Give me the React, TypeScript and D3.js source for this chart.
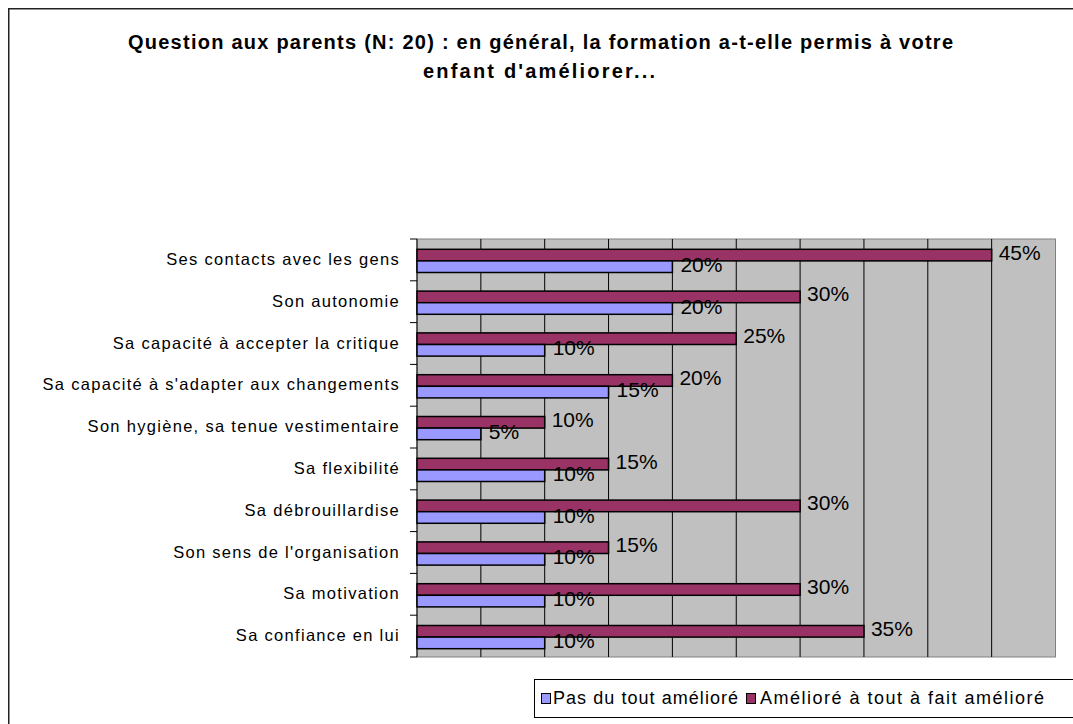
import React from "react";
import * as d3 from "d3";

const categories = [
  "Ses contacts avec les gens",
  "Son autonomie",
  "Sa capacité à accepter la critique",
  "Sa capacité à s'adapter aux changements",
  "Son hygiène, sa tenue vestimentaire",
  "Sa flexibilité",
  "Sa débrouillardise",
  "Son sens de l'organisation",
  "Sa motivation",
  "Sa confiance en lui",
];
const pasDuTout = [0.2, 0.2, 0.1, 0.15, 0.05, 0.1, 0.1, 0.1, 0.1, 0.1];
const ameliore = [0.45, 0.3, 0.25, 0.2, 0.1, 0.15, 0.3, 0.15, 0.3, 0.35];
const seriesNames = ["Pas du tout amélioré", "Amélioré à tout à fait amélioré"];
const xTicks = [0, 0.05, 0.1, 0.15, 0.2, 0.25, 0.3, 0.35, 0.4, 0.45, 0.5];
const titleLines = [
  "Question aux parents (N: 20) : en général, la formation a-t-elle permis à votre",
  "enfant d'améliorer...",
];

const W = 1073;
const H = 724;
const FONT = "'Liberation Sans', Arial, sans-serif";
const BLUE = "#9999FF";
const MAROON = "#993366";
const PLOT_BG = "#C0C0C0";

export default function App() {
  const x0 = 417, x1 = 1055.5, y0 = 239, y1 = 657;
  const x = d3.scaleLinear().domain([0, 0.5]).range([x0, x1]);
  const y = d3.scaleBand<string>().domain(categories).range([y0, y1]);
  const bw = y.bandwidth();
  const barH = 11.6;
  const pct = d3.format(".0%");

  return (
    <svg width={W} height={H} style={{ position: "absolute", left: 0, top: 0 }}>
      <rect x={0} y={0} width={W} height={H} fill="#fff" />
      <rect x={8.75} y={8.75} width={W + 20} height={H + 20} fill="none" stroke="#222" strokeWidth={1.5} />

      {/* title */}
      <text x={540.5} y={48.5} textAnchor="middle" fontFamily={FONT} fontWeight="bold" fontSize={20}
        textLength={825} lengthAdjust="spacing">{titleLines[0]}</text>
      <text x={539} y={77.5} textAnchor="middle" fontFamily={FONT} fontWeight="bold" fontSize={20}
        textLength={232} lengthAdjust="spacing">{titleLines[1]}</text>

      {/* plot area */}
      <rect x={x0} y={y0} width={x1 - x0} height={y1 - y0} fill={PLOT_BG} stroke="#808080" strokeWidth={1} />
      {xTicks.slice(1, -1).map((t) => (
        <line key={t} x1={x(t)} x2={x(t)} y1={y0} y2={y1} stroke="#000" strokeWidth={1} />
      ))}

      {/* left axis */}
      <line x1={x0} x2={x0} y1={y0} y2={y1} stroke="#000" strokeWidth={1} />
      {d3.range(categories.length + 1).map((i) => {
        const yy = y0 + i * bw;
        return <line key={i} x1={x0 - 7} x2={x0} y1={yy} y2={yy} stroke="#000" strokeWidth={1} />;
      })}

      {categories.map((c, i) => {
        const top = (y(c) as number) + 10.3;
        const yM = top;
        const yB = top + barH;
        return (
          <g key={c}>
            <text x={400} y={(y(c) as number) + bw / 2 + 5} textAnchor="end" fontFamily={FONT}
              fontSize={16.5} letterSpacing={1.3} fill="#000">{c}</text>
            <rect x={x(0)} y={yM} width={x(ameliore[i]) - x(0)} height={barH} fill={MAROON}
              stroke="#000" strokeWidth={1.5} />
            <rect x={x(0)} y={yB} width={x(pasDuTout[i]) - x(0)} height={barH} fill={BLUE}
              stroke="#000" strokeWidth={1.5} />
            <text x={x(ameliore[i]) + 7} y={yM + barH / 2 + 4.5} fontFamily={FONT} fontSize={21}
              fill="#000">{pct(ameliore[i])}</text>
            <text x={x(pasDuTout[i]) + 8} y={yB + barH / 2 + 5} fontFamily={FONT} fontSize={21}
              fill="#000">{pct(pasDuTout[i])}</text>
          </g>
        );
      })}

      {/* legend */}
      <rect x={534.5} y={679.5} width={W} height={38} fill="#fff" stroke="#000" strokeWidth={1} />
      <rect x={541.5} y={693.5} width={9} height={10} fill={BLUE} stroke="#000" strokeWidth={1} />
      <text x={553} y={704} fontFamily={FONT} fontSize={18} letterSpacing={1.05}>{seriesNames[0]}</text>
      <rect x={746.5} y={693.5} width={9} height={10} fill={MAROON} stroke="#000" strokeWidth={1} />
      <text x={760} y={704} fontFamily={FONT} fontSize={18} letterSpacing={1.5}>{seriesNames[1]}</text>
    </svg>
  );
}
